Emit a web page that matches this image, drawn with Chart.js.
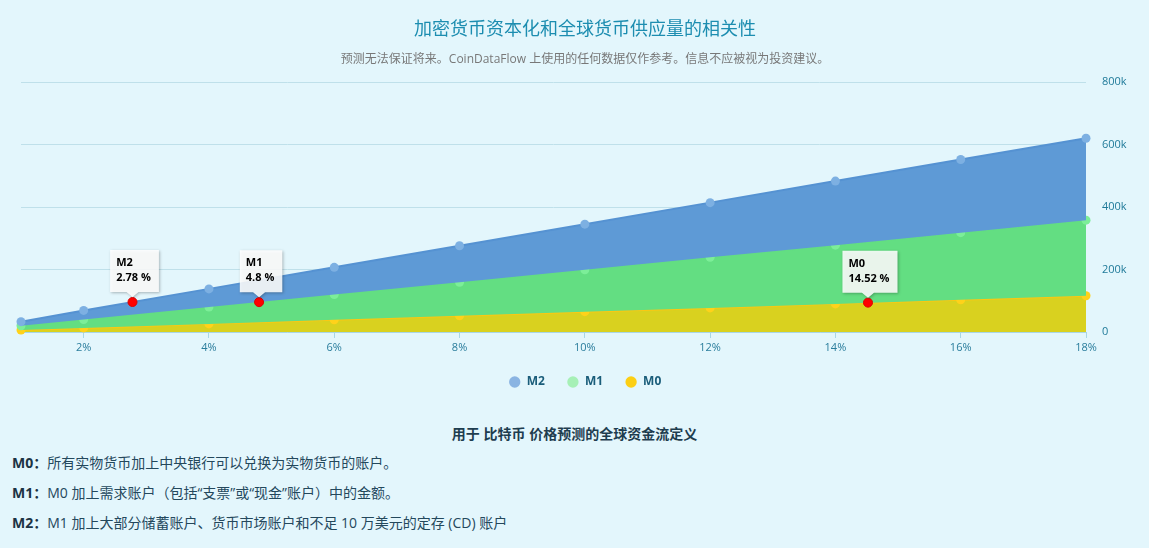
<!DOCTYPE html>
<html>
<head>
<meta charset="utf-8">
<script src="https://cdn.jsdelivr.net/npm/chart.js@4.4.1/dist/chart.umd.min.js"></script>
<style>
  html, body { margin: 0; padding: 0; background: #e3f6fc; }
  body { width: 1149px; height: 548px; position: relative; overflow: hidden;
         font-family: "Open Sans", "Noto Sans CJK SC", sans-serif; }
  .chart-box { position: absolute; left: 0; top: 0; width: 1149px; height: 402px; }
  .defs-title { position: absolute; top: 423px; left: 0; width: 1149px; text-align: center;
                font-size: 14px; font-weight: bold; color: #1e3d4f; }
  .def { position: absolute; left: 12px; font-size: 14px; color: #24485c; }
  .def b { color: #1b3343; }
</style>
</head>
<body>
<div class="chart-box"><canvas id="moneyChart"></canvas></div>
<div class="defs-title">用于 比特币 价格预测的全球资金流定义</div>
<div class="def" style="top:452px"><b>M0</b><b>：</b>所有实物货币加上中央银行可以兑换为实物货币的账户。</div>
<div class="def" style="top:482px"><b>M1</b><b>：</b>M0 加上需求账户（包括“支票”或“现金”账户）中的金额。</div>
<div class="def" style="top:512px"><b>M2</b><b>：</b>M1 加上大部分储蓄账户、货币市场账户和不足 10 万美元的定存 (CD) 账户</div>

<script>
    // growth rate (%) on the x axis
    const rates = [1, 2, 4, 6, 8, 10, 12, 14, 16, 18];
    const m2Values = [33000, 69000, 138000, 207000, 276000, 345000, 414000, 483000, 552000, 620000];
    const m1Values = [20000, 40000, 80000, 120000, 159000, 199000, 239000, 278000, 318000, 358000];
    const m0Values = [6500, 13000, 26000, 39000, 52000, 65000, 77000, 90000, 103000, 116000];

    const xTicks = [2, 4, 6, 8, 10, 12, 14, 16, 18];
    const yTicks = [0, 200000, 400000, 600000, 800000];

    // highlighted points with the callout boxes
    const markerNames = ['M2', 'M1', 'M0'];
    const markerRates = [2.78, 4.8, 14.52];
    const markerValues = [96000, 95500, 94000];

    const legendColors = ['#8ab4e2', '#a6f0b6', '#fccf14'];

    const toPoints = (xs, ys) => xs.map((x, i) => ({ x: x, y: ys[i] }));

    const calloutPlugin = {
        id: 'callouts',
        afterDatasetsDraw(chart) {
            const meta = chart.getDatasetMeta(3);
            const ctx = chart.ctx;
            ctx.save();
            ctx.font = 'bold 11px "Open Sans", sans-serif';
            meta.data.forEach((pt, i) => {
                const line1 = markerNames[i];
                const line2 = markerRates[i] + ' %';
                const w = Math.max(ctx.measureText(line1).width, ctx.measureText(line2).width) + 14;
                const h = 42;
                const tipY = pt.y - 5;
                const bottom = tipY - 5;
                const left = pt.x - w / 2 + 2;
                const top = bottom - h;
                ctx.save();
                ctx.shadowColor = 'rgba(0,0,0,0.3)';
                ctx.shadowBlur = 3;
                ctx.shadowOffsetX = 1;
                ctx.shadowOffsetY = 1;
                ctx.fillStyle = 'rgba(255,255,255,0.88)';
                ctx.beginPath();
                ctx.moveTo(left, top);
                ctx.lineTo(left + w, top);
                ctx.lineTo(left + w, bottom);
                ctx.lineTo(pt.x + 6, bottom);
                ctx.lineTo(pt.x, tipY);
                ctx.lineTo(pt.x - 6, bottom);
                ctx.lineTo(left, bottom);
                ctx.closePath();
                ctx.fill();
                ctx.restore();
                ctx.fillStyle = '#000';
                ctx.textBaseline = 'middle';
                ctx.textAlign = 'left';
                ctx.fillText(line1, left + 6, top + 13);
                ctx.fillText(line2, left + 6, top + 28);
            });
            ctx.restore();
        }
    };

    const ctx = document.getElementById('moneyChart').getContext('2d');
    new Chart(ctx, {
        type: 'line',
        data: {
            datasets: [
                {
                    label: 'M2',
                    data: toPoints(rates, m2Values),
                    borderColor: '#5592d2',
                    backgroundColor: '#5e9ad6',
                    borderWidth: 2,
                    fill: '+1',
                    clip: false,
                    pointRadius: 4.5,
                    pointBackgroundColor: '#7db0e2',
                    pointBorderWidth: 0
                },
                {
                    label: 'M1',
                    data: toPoints(rates, m1Values),
                    borderColor: '#63de82',
                    backgroundColor: '#63de82',
                    borderWidth: 2,
                    fill: '+1',
                    clip: false,
                    pointRadius: 4.5,
                    pointBackgroundColor: '#7cee98',
                    pointBorderWidth: 0
                },
                {
                    label: 'M0',
                    data: toPoints(rates, m0Values),
                    borderColor: '#fcc812',
                    backgroundColor: '#d9d11f',
                    borderWidth: 2,
                    fill: 'origin',
                    clip: false,
                    pointRadius: 4.5,
                    pointBackgroundColor: '#ffd21a',
                    pointBorderWidth: 0
                },
                {
                    label: 'markers',
                    type: 'scatter',
                    order: -1,
                    data: toPoints(markerRates, markerValues),
                    pointRadius: 4.5,
                    pointBackgroundColor: '#f00',
                    pointBorderColor: '#d00',
                    pointBorderWidth: 1
                }
            ]
        },
        options: {
            responsive: true,
            maintainAspectRatio: false,
            animation: false,
            layout: { padding: { left: 21, right: 0, bottom: 4 } },
            scales: {
                x: {
                    type: 'linear',
                    min: 1,
                    max: 18,
                    afterBuildTicks: (scale) => { scale.ticks = xTicks.map((v) => ({ value: v })); },
                    afterFit: (scale) => { scale.height = 22; },
                    ticks: {
                        callback: (v) => v + '%',
                        color: '#2a7d9c',
                        font: { size: 11, family: '"Open Sans", sans-serif' },
                        padding: 3,
                        maxRotation: 0
                    },
                    grid: { drawOnChartArea: false, tickLength: 6, color: '#a9d6e5' },
                    border: { color: '#a9d6e5' }
                },
                y: {
                    position: 'right',
                    min: 0,
                    max: 800000,
                    afterBuildTicks: (scale) => { scale.ticks = yTicks.map((v) => ({ value: v })); },
                    afterFit: (scale) => { scale.width = 63; },
                    ticks: {
                        callback: (v) => (v === 0 ? '0' : v / 1000 + 'k'),
                        color: '#1f7a99',
                        font: { size: 11, family: '"Open Sans", sans-serif' },
                        padding: 16
                    },
                    grid: { drawTicks: false, color: '#bfe0ea' },
                    border: { display: false }
                }
            },
            plugins: {
                title: {
                    display: true,
                    text: '加密货币资本化和全球货币供应量的相关性',
                    color: '#1c8db0',
                    font: { size: 18, weight: 'normal', family: '"Open Sans", "Noto Sans CJK SC", sans-serif' },
                    padding: { top: 19, bottom: 10 }
                },
                subtitle: {
                    display: true,
                    text: '预测无法保证将来。CoinDataFlow 上使用的任何数据仅作参考。信息不应被视为投资建议。',
                    color: '#787878',
                    font: { size: 12, family: '"Open Sans", "Noto Sans CJK SC", sans-serif' },
                    padding: { top: 2, bottom: 15 }
                },
                legend: {
                    position: 'bottom',
                    labels: {
                        usePointStyle: true,
                        pointStyle: 'circle',
                        boxWidth: 12,
                        boxHeight: 8,
                        padding: 22,
                        color: '#1a5d7a',
                        font: { size: 12, weight: 'bold', family: '"Open Sans", sans-serif' },
                        generateLabels: (chart) => chart.data.datasets.slice(0, 3).map((ds, i) => ({
                            text: ds.label,
                            fillStyle: legendColors[i],
                            strokeStyle: legendColors[i],
                            lineWidth: 0,
                            pointStyle: 'circle',
                            fontColor: '#1a5d7a',
                            datasetIndex: i,
                            hidden: false
                        }))
                    }
                },
                tooltip: { enabled: false }
            }
        },
        plugins: [calloutPlugin]
    });
</script>
</body>
</html>
